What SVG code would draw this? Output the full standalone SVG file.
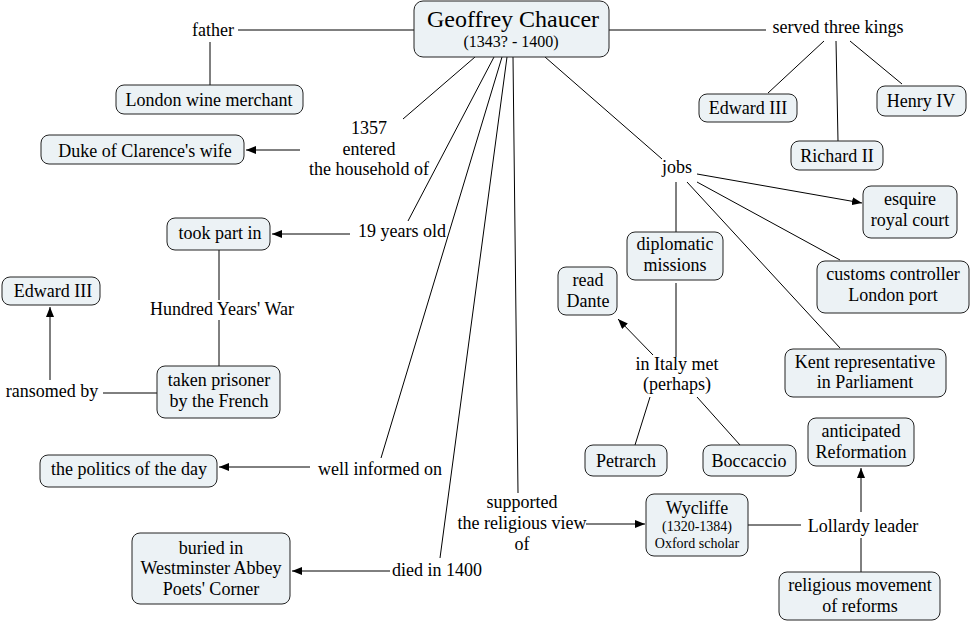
<svg xmlns="http://www.w3.org/2000/svg" width="972" height="623" viewBox="0 0 972 623">
<defs>
<style>
.n rect{fill:#ecf2f5;stroke:#222;stroke-width:1}
text{font-family:Liberation Serif, Times New Roman, Times, serif;font-size:18px;fill:#000;text-anchor:middle}
.s{font-size:14px}
.t{font-size:24px}
.st{font-size:16px}
#connectors line{stroke:#000;stroke-width:1}
</style>
<marker id="ah" viewBox="0 0 10 8" refX="10" refY="4" markerWidth="10" markerHeight="8" markerUnits="userSpaceOnUse" orient="auto"><path d="M0,0 L10,4 L0,8 z" fill="#000"/></marker>
</defs>
<rect width="972" height="623" fill="#fff"/>
<g id="connectors">
<line x1="414" y1="30" x2="238" y2="30"/>
<line x1="210" y1="42" x2="210" y2="85"/>
<line x1="609" y1="30" x2="766" y2="30"/>
<line x1="824" y1="41" x2="768" y2="93"/>
<line x1="836" y1="41" x2="838" y2="141"/>
<line x1="850" y1="41" x2="902" y2="84"/>
<line x1="475" y1="57" x2="403" y2="119"/>
<line x1="300" y1="150" x2="246" y2="150" marker-end="url(#ah)"/>
<line x1="494" y1="57" x2="408" y2="221"/>
<line x1="350" y1="234" x2="272" y2="234" marker-end="url(#ah)"/>
<line x1="219" y1="250" x2="219" y2="300"/>
<line x1="219" y1="320" x2="219" y2="366"/>
<line x1="157" y1="393" x2="103" y2="393"/>
<line x1="50" y1="380" x2="50" y2="307" marker-end="url(#ah)"/>
<line x1="502" y1="57" x2="381" y2="458"/>
<line x1="310" y1="467" x2="219" y2="467" marker-end="url(#ah)"/>
<line x1="507" y1="57" x2="440" y2="558"/>
<line x1="390" y1="571" x2="292" y2="571" marker-end="url(#ah)"/>
<line x1="513" y1="57" x2="518" y2="493"/>
<line x1="586" y1="524" x2="645" y2="524" marker-end="url(#ah)"/>
<line x1="748" y1="525" x2="801" y2="525"/>
<line x1="861" y1="512" x2="861" y2="468" marker-end="url(#ah)"/>
<line x1="861" y1="538" x2="861" y2="572"/>
<line x1="545" y1="57" x2="662" y2="159"/>
<line x1="697" y1="174" x2="862" y2="203" marker-end="url(#ah)"/>
<line x1="697" y1="182" x2="840" y2="260"/>
<line x1="687" y1="182" x2="840" y2="348"/>
<line x1="676" y1="182" x2="676" y2="232"/>
<line x1="676" y1="283" x2="676" y2="357"/>
<line x1="653" y1="355" x2="618" y2="319" marker-end="url(#ah)"/>
<line x1="650" y1="397" x2="635" y2="445"/>
<line x1="697" y1="397" x2="740" y2="445"/>
</g>
<g id="labels">
<text x="213" y="36">father</text>
<text x="838" y="33">served three kings</text>
<text x="369" y="134">1357</text>
<text x="369" y="155">entered</text>
<text x="369" y="175">the household of</text>
<text x="402" y="237">19 years old</text>
<text x="222" y="315">Hundred Years' War</text>
<text x="52" y="397">ransomed by</text>
<text x="677" y="173">jobs</text>
<text x="677" y="370">in Italy met</text>
<text x="677" y="390">(perhaps)</text>
<text x="380" y="475">well informed on</text>
<text x="522" y="508">supported</text>
<text x="522" y="529">the religious view</text>
<text x="522" y="550">of</text>
<text x="437" y="576">died in 1400</text>
<text x="863" y="532">Lollardy leader</text>
</g>
<g id="n-main" class="n"><rect x="414" y="1" width="195" height="56" rx="9"/><text class="t" x="513" y="27">Geoffrey Chaucer</text><text class="st" x="511" y="47">(1343? - 1400)</text></g>
<g id="n-wine" class="n"><rect x="116" y="85" width="187" height="29" rx="8"/><text x="209" y="106">London wine merchant</text></g>
<g id="n-duke" class="n"><rect x="41" y="135" width="203" height="29" rx="8"/><text x="145" y="157">Duke of Clarence's wife</text></g>
<g id="n-took" class="n"><rect x="167" y="218" width="103" height="32" rx="8"/><text x="220" y="239">took part in</text></g>
<g id="n-ed3l" class="n"><rect x="2" y="277" width="98" height="28" rx="8"/><text x="53" y="297">Edward III</text></g>
<g id="n-prisoner" class="n"><rect x="157" y="366" width="123" height="52" rx="8"/><text x="219" y="386">taken prisoner</text><text x="219" y="407">by the French</text></g>
<g id="n-politics" class="n"><rect x="40" y="455" width="177" height="32" rx="8"/><text x="129" y="475">the politics of the day</text></g>
<g id="n-buried" class="n"><rect x="132" y="533" width="158" height="71" rx="8"/><text x="211" y="554">buried in</text><text x="211" y="574">Westminster Abbey</text><text x="211" y="595">Poets' Corner</text></g>
<g id="n-ed3r" class="n"><rect x="699" y="94" width="98" height="28" rx="8"/><text x="748" y="114">Edward III</text></g>
<g id="n-henry" class="n"><rect x="877" y="86" width="89" height="30" rx="8"/><text x="921" y="107">Henry IV</text></g>
<g id="n-richard" class="n"><rect x="791" y="141" width="92" height="29" rx="8"/><text x="837" y="162">Richard II</text></g>
<g id="n-esquire" class="n"><rect x="863" y="186" width="94" height="52" rx="8"/><text x="910" y="205">esquire</text><text x="910" y="226">royal court</text></g>
<g id="n-diplo" class="n"><rect x="627" y="232" width="96" height="48" rx="8"/><text x="675" y="250">diplomatic</text><text x="675" y="271">missions</text></g>
<g id="n-dante" class="n"><rect x="558" y="267" width="59" height="48" rx="8"/><text x="588" y="286">read</text><text x="588" y="307">Dante</text></g>
<g id="n-customs" class="n"><rect x="817" y="261" width="152" height="52" rx="8"/><text x="893" y="280">customs controller</text><text x="893" y="301">London port</text></g>
<g id="n-kent" class="n"><rect x="785" y="349" width="161" height="48" rx="8"/><text x="865" y="368">Kent representative</text><text x="865" y="388">in Parliament</text></g>
<g id="n-antic" class="n"><rect x="808" y="418" width="106" height="48" rx="8"/><text x="861" y="437">anticipated</text><text x="861" y="458">Reformation</text></g>
<g id="n-petrarch" class="n"><rect x="585" y="445" width="82" height="31" rx="8"/><text x="626" y="467">Petrarch</text></g>
<g id="n-boccaccio" class="n"><rect x="703" y="445" width="93" height="31" rx="8"/><text x="749" y="467">Boccaccio</text></g>
<g id="n-wycliffe" class="n"><rect x="646" y="494" width="102" height="62" rx="8"/><text x="697" y="514">Wycliffe</text><text class="s" x="697" y="531">(1320-1384)</text><text class="s" x="697" y="548">Oxford scholar</text></g>
<g id="n-religious" class="n"><rect x="779" y="572" width="161" height="48" rx="8"/><text x="860" y="591">religious movement</text><text x="860" y="612">of reforms</text></g>
</svg>
